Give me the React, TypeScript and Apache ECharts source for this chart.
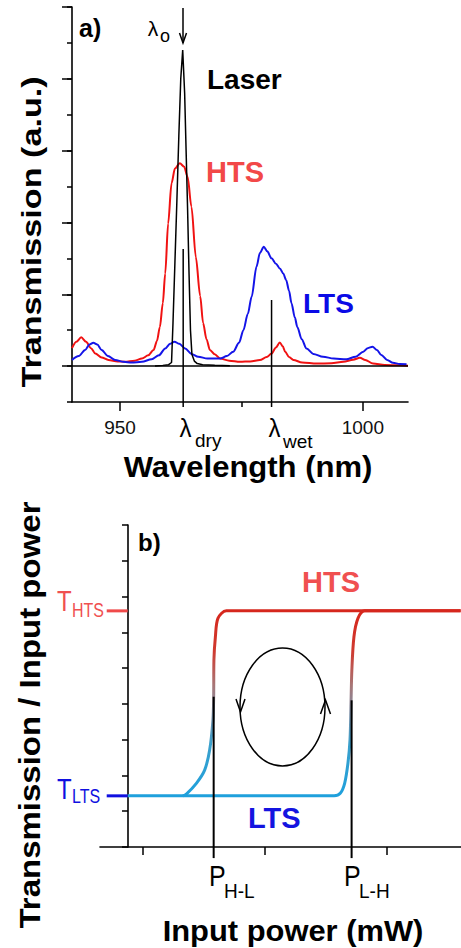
import React, { useEffect, useRef } from 'react';
import * as echarts from 'echarts';

const FONT = '"Liberation Sans", Arial, Helvetica, sans-serif';

// ---------- Panel a) : transmission spectra ----------
const wavelengthRange = [940.1, 1009.3];
const wavelengthTickLabels = [950, 1000];
const wavelengthMinorTicks = [975];
const transmissionRange = [-1, 10];
const transmissionMajorTicks = [0, 2, 4, 6, 8, 10];

const htsSpectrum = [
  [940.1, 0.5], [941.0, 0.68], [942.0, 0.8], [943.0, 0.68], [944.0, 0.5], [944.9, 0.35],
  [946.2, 0.24], [947.6, 0.17], [949.5, 0.13], [951.0, 0.12], [953.0, 0.15], [954.5, 0.21],
  [955.8, 0.3], [956.9, 0.45], [957.6, 0.7], [958.2, 1.09], [958.8, 1.75], [959.3, 2.58],
  [959.9, 3.97], [960.6, 5.09], [961.3, 5.5], [962.3, 5.65], [963.2, 5.55], [963.9, 5.27],
  [964.7, 4.44], [965.6, 3.04], [966.5, 1.95], [967.1, 1.2], [967.8, 0.75], [968.5, 0.45],
  [969.5, 0.33], [970.6, 0.21], [972.5, 0.15], [974.7, 0.12], [976.8, 0.13], [978.8, 0.17],
  [980.2, 0.25], [981.2, 0.35], [982.1, 0.52], [982.9, 0.66], [983.5, 0.55], [984.0, 0.4],
  [984.8, 0.25], [985.7, 0.17], [987.5, 0.1], [990.5, 0.07], [993.5, 0.08], [996.0, 0.12],
  [998.0, 0.18], [999.4, 0.23], [1000.5, 0.17], [1002.1, 0.07], [1004.5, 0.03], [1007.6, 0.02],
  [1009.3, 0.01],
];

const ltsSpectrum = [
  [940.1, 0.17], [941.5, 0.28], [942.8, 0.45], [943.7, 0.6], [944.5, 0.65], [945.3, 0.6],
  [946.2, 0.45], [947.5, 0.28], [949.0, 0.17], [950.7, 0.12], [952.4, 0.1], [954.5, 0.12],
  [956.5, 0.19], [958.0, 0.3], [959.3, 0.49], [960.3, 0.62], [961.2, 0.68], [962.2, 0.62],
  [963.4, 0.49], [964.7, 0.34], [966.1, 0.26], [968.0, 0.21], [970.6, 0.21], [972.0, 0.28],
  [973.3, 0.4], [974.5, 0.65], [975.4, 1.0], [976.3, 1.45], [977.1, 1.93], [978.1, 2.77],
  [978.8, 3.15], [979.6, 3.32], [980.3, 3.2], [981.2, 3.0], [982.1, 2.85], [982.9, 2.72],
  [983.6, 2.58], [984.2, 2.4], [984.8, 2.1], [985.3, 1.75], [986.0, 1.35], [986.5, 1.09],
  [987.4, 0.75], [988.4, 0.49], [989.8, 0.34], [991.8, 0.26], [994.0, 0.21], [996.6, 0.19],
  [998.5, 0.26], [1000.1, 0.4], [1001.0, 0.5], [1002.0, 0.54], [1002.9, 0.45], [1003.8, 0.31],
  [1005.0, 0.17], [1006.2, 0.09], [1007.6, 0.06], [1009.0, 0.05],
];

const laserSpectrum = [
  [957.2, 0.0], [958.8, 0.02], [960.0, 0.04], [960.6, 0.1], [960.9, 1.2], [961.3, 2.9],
  [961.7, 4.6], [962.1, 6.4], [962.5, 8.0], [962.9, 8.8], [963.3, 7.6], [963.6, 6.0],
  [963.9, 4.4], [964.2, 2.6], [964.5, 1.0], [964.8, 0.32], [965.3, 0.14], [965.9, 0.07],
  [967.0, 0.04], [969.5, 0.02], [972.6, 0.01],
];

const zeroLine = [[940.1, 0], [1009.3, 0]];
const lambdaDryLine = [[963.0, 3.26], [963.0, -1.14]];
const lambdaWetLine = [[981.2, 1.84], [981.2, -1.14]];

// ---------- Panel b) : bistability ----------
const powerRange = [6.5, 36.1];
const powerTicks = [10, 20, 30];
const levelRange = [0, 9];
const tHTS = 6.6;
const tLTS = 1.43;

const lowToHighBranch = [
  [8.77, 1.43], [25.7, 1.43], [26.2, 1.5], [26.56, 1.78], [26.83, 2.34], [27.0, 3.0],
  [27.08, 4.0], [27.15, 4.94], [27.32, 5.87], [27.65, 6.39], [28.2, 6.6], [36.07, 6.6],
];
const highToLowBranch = [
  [36.07, 6.6], [16.86, 6.6], [16.17, 6.39], [15.96, 5.87], [15.84, 5.22], [15.82, 4.2],
  [15.76, 3.55], [15.49, 2.71], [15.08, 2.15], [14.4, 1.78], [13.58, 1.48], [13.3, 1.43],
];
const pHLLine = [[15.82, 4.2], [15.82, -0.31]];
const pLHLine = [[27.13, 4.1], [27.13, -0.31]];
const tHTSMark = [[7.05, tHTS], [8.77, tHTS]];
const tLTSMark = [[7.05, tLTS], [8.77, tLTS]];

function lineSeries(data: number[][], color: any, width: number, xi: number, yi: number, extra: any = {}) {
  return {
    type: 'line',
    data,
    xAxisIndex: xi,
    yAxisIndex: yi,
    symbol: 'none',
    showSymbol: false,
    silent: true,
    lineStyle: { color, width },
    itemStyle: { color: typeof color === 'string' ? color : '#c33' },
    ...extra,
  };
}

function txt(text: string, x: number, y: number, size: number, opts: any = {}) {
  const { color = '#000', weight = 'normal', align = 'left', valign = 'middle', rotation = 0, scaleX = 1, scaleY = 1 } = opts;
  return {
    type: 'text',
    x,
    y,
    rotation,
    scaleX,
    scaleY,
    silent: true,
    style: {
      text,
      fill: color,
      fontSize: size,
      fontWeight: weight,
      fontFamily: FONT,
      align,
      verticalAlign: valign,
    },
  };
}

export default function App() {
  const ref = useRef<HTMLDivElement>(null);

  useEffect(() => {
    if (!ref.current) return;
    const chart = echarts.init(ref.current, undefined, { renderer: 'svg' });

    const grad = () =>
      new echarts.graphic.LinearGradient(0, 0, 0, 1, [
        { offset: 0, color: '#d6271d' },
        { offset: 0.22, color: '#cf3a30' },
        { offset: 0.4, color: '#a87676' },
        { offset: 0.55, color: '#7d8ea6' },
        { offset: 0.72, color: '#3aa0cc' },
        { offset: 1, color: '#1fa0dc' },
      ]);

    const axisLine = { show: true, onZero: false, lineStyle: { color: '#000', width: 1.6 } };

    const option: any = {
      animation: false,
      backgroundColor: '#fff',
      grid: [
        { left: 72, top: 7, width: 336, height: 395 },
        { left: 100, top: 525, width: 361, height: 322 },
      ],
      xAxis: [
        {
          gridIndex: 0, type: 'value', position: 'bottom',
          min: wavelengthRange[0], max: wavelengthRange[1],
          axisLine,
          axisTick: { show: true, length: 9, customValues: wavelengthTickLabels, lineStyle: { color: '#000', width: 1.5 } },
          axisLabel: {
            show: true, customValues: wavelengthTickLabels, fontSize: 19, color: '#111', margin: 16,
            fontFamily: FONT, formatter: (v: number) => String(v),
          },
          splitLine: { show: false },
        },
        {
          gridIndex: 0, type: 'value', position: 'bottom',
          min: wavelengthRange[0], max: wavelengthRange[1],
          axisLine: { show: false, onZero: false },
          axisTick: { show: true, length: 5, customValues: wavelengthMinorTicks, lineStyle: { color: '#000', width: 1.5 } },
          axisLabel: { show: false },
          splitLine: { show: false },
        },
        {
          gridIndex: 1, type: 'value', position: 'bottom',
          min: powerRange[0], max: powerRange[1],
          axisLine,
          axisTick: { show: true, length: 8, customValues: powerTicks, lineStyle: { color: '#000', width: 1.5 } },
          axisLabel: { show: false },
          splitLine: { show: false },
        },
      ],
      yAxis: [
        {
          gridIndex: 0, type: 'value', position: 'left',
          min: transmissionRange[0], max: transmissionRange[1], interval: 1,
          axisLine,
          axisTick: { show: true, length: 5, lineStyle: { color: '#000', width: 1.5 } },
          axisLabel: { show: false },
          splitLine: { show: false },
        },
        {
          gridIndex: 0, type: 'value', position: 'left',
          min: transmissionRange[0], max: transmissionRange[1],
          axisLine: { show: false, onZero: false },
          axisTick: { show: true, length: 10, customValues: transmissionMajorTicks, lineStyle: { color: '#000', width: 1.5 } },
          axisLabel: { show: false },
          splitLine: { show: false },
        },
        {
          gridIndex: 1, type: 'value', position: 'left', offset: -28,
          min: levelRange[0], max: levelRange[1], interval: 1,
          axisLine,
          axisTick: { show: true, length: 6, lineStyle: { color: '#000', width: 1.5 } },
          axisLabel: { show: false },
          splitLine: { show: false },
        },
      ],
      series: [
        lineSeries(htsSpectrum, '#f01212', 2, 0, 0, { smooth: 0.3, smoothMonotone: 'x', z: 2 }),
        lineSeries(ltsSpectrum, '#1414e8', 2, 0, 0, { smooth: 0.3, smoothMonotone: 'x', z: 3 }),
        lineSeries(laserSpectrum, '#000', 1.5, 0, 0, { z: 4 }),
        lineSeries(zeroLine, '#000', 1.5, 0, 0, { z: 4 }),
        lineSeries(lambdaDryLine, '#000', 1.5, 0, 0, { clip: false, z: 5 }),
        lineSeries(lambdaWetLine, '#000', 1.5, 0, 0, { clip: false, z: 5 }),

        lineSeries(lowToHighBranch, grad(), 3, 2, 2, { smooth: 0.3, z: 2 }),
        lineSeries(highToLowBranch, grad(), 3, 2, 2, { smooth: 0.3, z: 2 }),
        lineSeries(pHLLine, '#000', 2, 2, 2, { clip: false, z: 5 }),
        lineSeries(pLHLine, '#000', 2, 2, 2, { clip: false, z: 5 }),
        lineSeries(tHTSMark, '#f04a4a', 3, 2, 2, { clip: false, z: 5 }),
        lineSeries(tLTSMark, '#1010e0', 3, 2, 2, { clip: false, z: 5 }),
      ],
      graphic: [
        // panel a
        txt('a)', 79, 28, 25, { weight: 'bold' }),
        txt('λ', 153, 28, 21, { align: 'center' }),
        txt('o', 160, 36, 18),
        { type: 'line', silent: true, shape: { x1: 183, y1: 8, x2: 183, y2: 43 }, style: { stroke: '#000', lineWidth: 1.5 } },
        { type: 'polyline', silent: true, shape: { points: [[179.5, 33], [183, 43], [186.5, 33]] }, style: { stroke: '#000', lineWidth: 1.5, fill: null } },
        txt('Laser', 207, 79, 28, { weight: 'bold' }),
        txt('HTS', 206, 172, 29, { weight: 'bold', color: '#f24848' }),
        txt('LTS', 303, 303, 28, { weight: 'bold', color: '#0a0ae6' }),
        txt('λ', 185.5, 428, 24, { align: 'center', scaleY: 1.05 }),
        txt('dry', 195, 440, 19),
        txt('λ', 274.5, 428, 24, { align: 'center', scaleY: 1.05 }),
        txt('wet', 283, 441, 19),
        txt('Wavelength (nm)', 248, 467, 29, { weight: 'bold', align: 'center', scaleX: 1.07 }),
        txt('Transmission (a.u.)', 32, 232, 28, { weight: 'bold', align: 'center', rotation: Math.PI / 2, scaleX: 1.22 }),

        // panel b
        txt('b)', 138, 542, 24, { weight: 'bold' }),
        txt('HTS', 302, 582, 29, { weight: 'bold', color: '#f05050' }),
        txt('LTS', 248, 818, 29, { weight: 'bold', color: '#1414e0' }),
        txt('T', 57, 601, 24, { color: '#f05050', scaleY: 1.25 }),
        txt('HTS', 72, 610, 16, { color: '#f05050', scaleY: 1.3 }),
        txt('T', 57, 789, 24, { color: '#1010e0', scaleY: 1.25 }),
        txt('LTS', 72, 796, 16, { color: '#1010e0', scaleY: 1.3 }),
        txt('P', 209, 876, 25, { scaleY: 1.2 }),
        txt('H-L', 224, 891, 19, { scaleY: 1.1 }),
        txt('P', 344, 876, 25, { scaleY: 1.2 }),
        txt('L-H', 359, 891, 19, { scaleY: 1.1 }),
        txt('Input power (mW)', 293, 930, 30, { weight: 'bold', align: 'center', scaleX: 1.03 }),
        txt('Transmission / Input power', 30, 715, 30, { weight: 'bold', align: 'center', rotation: Math.PI / 2, scaleX: 1.1 }),
        { type: 'ellipse', silent: true, shape: { cx: 282.5, cy: 707, rx: 42.5, ry: 59 }, style: { stroke: '#000', lineWidth: 1.5, fill: null } },
        { type: 'polyline', silent: true, shape: { points: [[236, 699], [240.5, 712], [245, 699]] }, style: { stroke: '#000', lineWidth: 1.5, fill: null } },
        { type: 'polyline', silent: true, shape: { points: [[320.5, 714], [325.5, 700], [330.5, 714]] }, style: { stroke: '#000', lineWidth: 1.5, fill: null } },
      ],
    };

    chart.setOption(option);
    return () => chart.dispose();
  }, []);

  return (
    <div
      ref={ref}
      style={{ position: 'absolute', left: 0, top: 0, width: 461, height: 948, background: '#fff' }}
    />
  );
}
